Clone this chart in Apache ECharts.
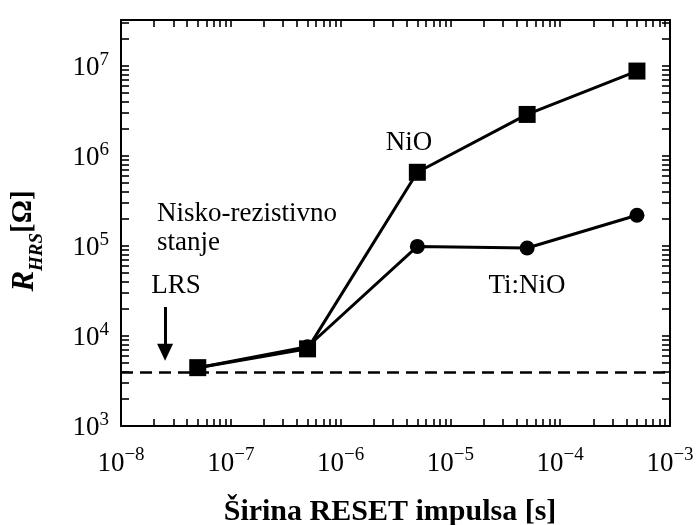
<!DOCTYPE html>
<html><head><meta charset="utf-8">
<script src="https://cdn.jsdelivr.net/npm/echarts@6/dist/echarts.min.js"></script>
<style>html,body{margin:0;padding:0;background:#fff}#c{width:699px;height:525px}</style>
</head><body><div id="c"></div>
<script>
// ---- data ----
const pulseWidths = [5e-8, 5e-7, 5e-6, 5e-5, 5e-4];
const nioValues   = [4.45e3, 7.2e3, 6.6e5, 2.9e6, 8.8e6];
const tiNioValues = [4.45e3, 7.6e3, 9.9e4, 9.5e4, 2.2e5];
const lrsLevel = 4.0e3;
const lrsArrowX = 2.52e-8;
const lrsArrowFrom = 2.1e4;
const lrsArrowTo = 6.6e3;
const xLabelValues = [1e-8, 1e-7, 1e-6, 1e-5, 1e-4, 1e-3];
const yLabelValues = [1e3, 1e4, 1e5, 1e6, 1e7];
const xMin = 1e-8, xMax = 1e-3, yMin = 1e3, yMax = 3.25e7;

function logTicks(min, max) {
  const t = [];
  for (let e = Math.floor(Math.log10(min)); e <= Math.ceil(Math.log10(max)); e++) {
    for (let k = 1; k < 10; k++) {
      const v = k * Math.pow(10, e);
      if (v >= min * 0.999 && v <= max * 1.001) t.push(v);
    }
  }
  return t;
}
const xTicks = logTicks(xMin, xMax);
const yTicks = logTicks(yMin, yMax);

const FONT = '"Liberation Serif", "Times New Roman", serif';
function powLabel(v) {
  const e = Math.round(Math.log10(v));
  const s = e < 0 ? '\u2212' + (-e) : '' + e;
  return '{b|10}{s|' + s + '}';
}
const labelRich = {
  b: { fontFamily: FONT, fontSize: 27, lineHeight: 31, verticalAlign: 'bottom', color: '#000' },
  s: { fontFamily: FONT, fontSize: 19, lineHeight: 19, verticalAlign: 'top', color: '#000' }
};
const axisLineStyle = { color: '#000', width: 2 };
const tickStyle = { color: '#000', width: 1.6 };

function xAx(pos, showLabel) {
  return {
    type: 'log', logBase: 10, min: xMin, max: xMax, position: pos,
    axisLine: { show: true, onZero: false, lineStyle: axisLineStyle },
    axisTick: { show: true, inside: true, length: 7, lineStyle: tickStyle, customValues: xTicks },
    axisLabel: showLabel ? { show: true, customValues: xLabelValues, formatter: powLabel, margin: 20, rich: labelRich } : { show: false },
    splitLine: { show: false }, minorTick: { show: false }
  };
}
function yAx(pos, showLabel) {
  return {
    type: 'log', logBase: 10, min: yMin, max: yMax, position: pos,
    axisLine: { show: true, onZero: false, lineStyle: axisLineStyle },
    axisTick: { show: true, inside: true, length: 8, lineStyle: tickStyle, customValues: yTicks },
    axisLabel: showLabel ? { show: true, customValues: yLabelValues, formatter: powLabel, margin: 12, rich: labelRich } : { show: false },
    splitLine: { show: false }, minorTick: { show: false }
  };
}

const chart = echarts.init(document.getElementById('c'), null, { renderer: 'canvas' });
chart.setOption({
  animation: false,
  backgroundColor: '#fff',
  grid: { left: 121, right: 29, top: 20, bottom: 99, containLabel: false, outerBoundsMode: 'none' },
  xAxis: [xAx('bottom', true), xAx('top', false)],
  yAxis: [yAx('left', true), yAx('right', false)],
  series: [
    {
      name: 'Ti:NiO', type: 'line', xAxisIndex: 0, yAxisIndex: 0,
      data: pulseWidths.map((x, i) => [x, tiNioValues[i]]),
      symbol: 'circle', symbolSize: 15,
      lineStyle: { color: '#000', width: 3 }, itemStyle: { color: '#000' },
      emphasis: { disabled: true }, silent: true, z: 3
    },
    {
      name: 'NiO', type: 'line', xAxisIndex: 0, yAxisIndex: 0,
      data: pulseWidths.map((x, i) => [x, nioValues[i]]),
      symbol: 'rect', symbolSize: 17,
      lineStyle: { color: '#000', width: 3 }, itemStyle: { color: '#000' },
      emphasis: { disabled: true }, silent: true, z: 4,
      markLine: {
        silent: true, animation: false,
        label: { show: false },
        emphasis: { disabled: true },
        data: [
          [
            { coord: [xMin, lrsLevel], symbol: 'none', lineStyle: { color: '#000', width: 2.5, type: [12, 7] } },
            { coord: [xMax, lrsLevel], symbol: 'none' }
          ],
          [
            { coord: [lrsArrowX, lrsArrowFrom], symbol: 'none', lineStyle: { color: '#000', width: 3, type: 'solid' } },
            { coord: [lrsArrowX, lrsArrowTo], symbol: 'triangle', symbolSize: [16, 17] }
          ]
        ]
      }
    }
  ],
  graphic: [
    { type: 'text', x: 176, y: 286, style: { text: 'LRS', font: '27px ' + FONT, fill: '#000', align: 'center', verticalAlign: 'middle', textAlign: 'center', textVerticalAlign: 'middle' } },
    { type: 'text', x: 409, y: 143, style: { text: 'NiO', font: '27px ' + FONT, fill: '#000', align: 'center', verticalAlign: 'middle', textAlign: 'center', textVerticalAlign: 'middle' } },
    { type: 'text', x: 527, y: 286, style: { text: 'Ti:NiO', font: '27px ' + FONT, fill: '#000', align: 'center', verticalAlign: 'middle', textAlign: 'center', textVerticalAlign: 'middle' } },
    { type: 'text', x: 157, y: 214, style: { text: 'Nisko-rezistivno', font: '27px ' + FONT, fill: '#000', align: 'left', verticalAlign: 'middle', textAlign: 'left', textVerticalAlign: 'middle' } },
    { type: 'text', x: 157, y: 243, style: { text: 'stanje', font: '27px ' + FONT, fill: '#000', align: 'left', verticalAlign: 'middle', textAlign: 'left', textVerticalAlign: 'middle' } },
    { type: 'text', x: 390, y: 512, style: { text: 'Širina RESET impulsa [s]', font: 'bold 30px ' + FONT, fill: '#000', align: 'center', verticalAlign: 'middle', textAlign: 'center', textVerticalAlign: 'middle' } },
    {
      type: 'text', x: 28, y: 241, rotation: Math.PI / 2,
      style: {
        text: '{r|R}{s|HRS}{b|[Ω]}',
        align: 'center', verticalAlign: 'middle', textAlign: 'center', textVerticalAlign: 'middle',
        rich: {
          r: { fontFamily: FONT, fontSize: 31, fontWeight: 'bold', fontStyle: 'italic', lineHeight: 38, verticalAlign: 'top', color: '#000' },
          s: { fontFamily: FONT, fontSize: 19, fontWeight: 'bold', fontStyle: 'italic', lineHeight: 20, verticalAlign: 'bottom', color: '#000' },
          b: { fontFamily: FONT, fontSize: 29, fontWeight: 'bold', lineHeight: 38, verticalAlign: 'top', color: '#000' }
        }
      }
    }
  ]
});
</script>
</body></html>
